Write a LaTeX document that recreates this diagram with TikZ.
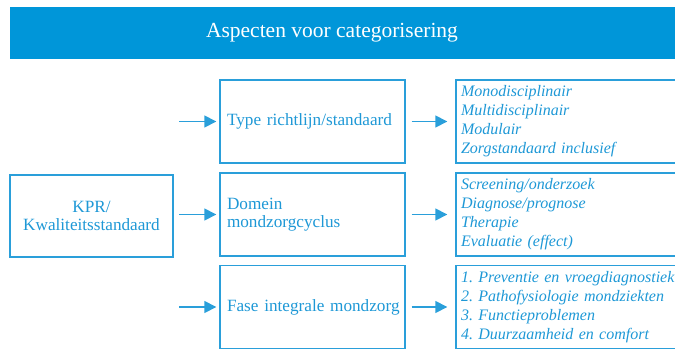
\documentclass[tikz,border=0pt]{standalone}
\usepackage{fontspec}
\setmainfont{Liberation Serif}
\usetikzlibrary{arrows.meta}
\definecolor{hdrblue}{HTML}{0096D9}
\definecolor{lineblue}{HTML}{2A9FDA}
\definecolor{txtblue}{HTML}{1E98D6}
\begin{document}
\begin{tikzpicture}[x=1pt,y=-1pt,
  box/.style={draw=lineblue, line width=1.4pt, text=txtblue, font=\fontsize{17.2}{18}\selectfont\frenchspacing, inner sep=0pt},
  midbox/.style={box, minimum width=185, minimum height=83, text width=171, align=left},
  rbox/.style={box, minimum width=250, minimum height=83, text width=240, align=left, font=\fontsize{16}{19}\selectfont\itshape\frenchspacing},
  arr/.style={draw=lineblue, line width=1.6pt, -{Triangle[length=12pt,width=12pt]}}
]
\useasboundingbox (0,0) rectangle (675,349);
\clip (0,0) rectangle (675,349);
\fill[hdrblue] (10,7) rectangle (680,59);
\node[text=white, font=\fontsize{21.5}{24}\selectfont] (hdr) at (332,33) {Aspecten voor categorisering};

\node[box, minimum width=163, minimum height=82, align=center] (kpr) at (91.5,216) {KPR/\\Kwaliteitsstandaard};

\node[midbox] (m1) at (312.5,121.5) {\mbox{Type richtlijn/standaard}};
\node[midbox] (m2) at (312.5,214.5) {Domein\\mondzorgcyclus};
\node[midbox] (m3) at (312.5,307) {\mbox{Fase integrale mondzorg}};

\node[rbox] (r1) at (581,121.5) {Monodisciplinair\\Multidisciplinair\\Modulair\\Zorgstandaard inclusief};
\node[rbox] (r2) at (581,214.5) {Screening/onderzoek\\Diagnose/prognose\\Therapie\\Evaluatie (effect)};
\node[rbox] (r3) at (581,307) {1. Preventie en vroegdiagnostiek\\2. Pathofysiologie mondziekten\\3. Functieproblemen\\4. Duurzaamheid en comfort};

\coordinate (s1) at (179,121.5);
\coordinate (s2) at (179,214.5);
\coordinate (s3) at (179,307);
\draw[arr, shorten >=3pt] (s1) -- (m1.west);
\draw[arr, shorten >=3pt] (s2) -- (m2.west);
\draw[arr, shorten >=3pt] (s3) -- (m3.west);
\draw[arr, shorten <=6pt, shorten >=8pt] (m1.east) -- (r1.west);
\draw[arr, shorten <=6pt, shorten >=8pt] (m2.east) -- (r2.west);
\draw[arr, shorten <=6pt, shorten >=8pt] (m3.east) -- (r3.west);
\end{tikzpicture}
\end{document}
